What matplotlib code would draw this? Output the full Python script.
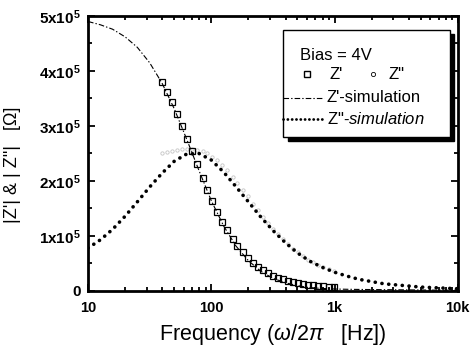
import matplotlib

matplotlib.use("Agg")
import matplotlib.pyplot as plt
from matplotlib.lines import Line2D
from matplotlib.patches import Rectangle
from matplotlib.ticker import FixedLocator, LogLocator, NullFormatter

plt.rcParams["font.family"] = ["Liberation Sans", "DejaVu Sans"]
plt.rcParams["mathtext.fontset"] = "custom"
plt.rcParams["mathtext.rm"] = "Liberation Sans"
plt.rcParams["mathtext.it"] = "Liberation Sans:italic"
plt.rcParams["mathtext.bf"] = "Liberation Sans:bold"
plt.rcParams["lines.scale_dashes"] = False

# simulation curves, impedance in units of 1e5 ohm
sim_freq = [10, 12.6, 15.8, 20, 25.1, 31.6, 39.8, 50.1, 63.1, 79.4,
            100, 126, 158, 200, 251, 316, 398, 501, 631, 794,
            1000, 1259, 1585, 1995, 2512, 3162, 3981, 5012, 6310, 7943, 10000]
zre_sim = [4.90, 4.84, 4.76, 4.62, 4.43, 4.15, 3.78, 3.31, 2.76, 2.19,
           1.64, 1.18, 0.82, 0.55, 0.36, 0.23, 0.15, 0.095, 0.061, 0.045,
           0.035, 0.03, 0.027, 0.025, 0.023, 0.021, 0.019, 0.017, 0.015, 0.013, 0.012]
zim_sim = [0.78, 0.93, 1.12, 1.36, 1.62, 1.89, 2.14, 2.36, 2.49, 2.50,
           2.38, 2.16, 1.90, 1.62, 1.35, 1.10, 0.88, 0.69, 0.54, 0.43,
           0.34, 0.27, 0.21, 0.17, 0.13, 0.11, 0.09, 0.07, 0.06, 0.05, 0.04]

# measured data
data_freq = [40, 44, 48, 53, 58, 64, 70, 77, 85, 93, 102, 112, 123, 135, 149,
             163, 180, 197, 217, 238, 262, 288, 316, 348, 382, 420, 462, 507,
             557, 613, 673, 740, 813, 894, 982]
zre_data = [3.80, 3.62, 3.44, 3.22, 3.00, 2.76, 2.54, 2.30, 2.06, 1.84, 1.64,
            1.44, 1.26, 1.10, 0.94, 0.82, 0.70, 0.60, 0.51, 0.44, 0.38, 0.32,
            0.28, 0.24, 0.21, 0.18, 0.16, 0.14, 0.12, 0.11, 0.10, 0.09, 0.085,
            0.08, 0.075]
zim_data = [2.50, 2.53, 2.55, 2.57, 2.58, 2.58, 2.58, 2.57, 2.54, 2.50, 2.44,
            2.38, 2.29, 2.20, 2.08, 1.97, 1.84, 1.72, 1.59, 1.47, 1.35, 1.24,
            1.13, 1.03, 0.94, 0.85, 0.77, 0.70, 0.63, 0.57, 0.52, 0.47, 0.43,
            0.39, 0.36]

y_ticks = [0, 1, 2, 3, 4, 5]
y_labels = ["0", "1x10$^5$", "2x10$^5$", "3x10$^5$", "4x10$^5$", "5x10$^5$"]
x_ticks = [10, 100, 1000, 10000]
x_labels = ["10", "100", "1k", "10k"]

fig = plt.figure(figsize=(4.71, 3.48), dpi=100)
ax = fig.add_axes([0.187, 0.164, 0.785, 0.790])

ax.plot(data_freq, zim_data, "o", ms=2.4, mfc="none", mec="#c4c4c4", mew=0.6)
ax.plot(data_freq, zre_data, "s", ms=3.8, mfc="none", mec="black", mew=0.9)
ax.plot(sim_freq, zre_sim, color="black", lw=0.8, linestyle=(0, (4, 1.5, 1, 1.5)))
ax.plot(sim_freq, zim_sim, color="black", lw=2.6, linestyle=(0, (0.1, 4.8)),
        dash_capstyle="round")

ax.set_xscale("log")
ax.set_xlim(10, 10000)
ax.set_ylim(0, 5)
ax.xaxis.set_major_locator(FixedLocator(x_ticks))
ax.set_xticklabels(x_labels, fontweight="bold")
ax.xaxis.set_minor_locator(LogLocator(base=10, subs=range(2, 10)))
ax.xaxis.set_minor_formatter(NullFormatter())
ax.set_yticks(y_ticks)
ax.set_yticklabels([l.replace("$^5$", "$\\mathbf{^5}$") for l in y_labels],
                   fontweight="bold")
ax.yaxis.set_minor_locator(FixedLocator([0.5, 1.5, 2.5, 3.5, 4.5]))

for s in ax.spines.values():
    s.set_linewidth(2)
ax.tick_params(which="both", direction="in", top=True, right=True, width=1.3)
ax.tick_params(which="major", length=5)
ax.tick_params(which="minor", length=3)
ax.tick_params(axis="x", labelsize=10.5, pad=7)
ax.tick_params(axis="y", labelsize=11, pad=5)

ax.set_xlabel(r"Frequency ($\omega$/2$\pi$   [Hz])", fontsize=15.5, labelpad=5)
ax.set_ylabel("|Z'| & | Z\"|   [\u03a9]", fontsize=13)
ax.yaxis.set_label_coords(-0.182, 0.46)

# legend box with shadow
bx, by, bw, bh = 0.527, 0.560, 0.451, 0.389
ax.add_patch(Rectangle((bx + 0.013, by - 0.015), bw, bh, transform=ax.transAxes,
                       facecolor="black", edgecolor="black", zorder=5))
ax.add_patch(Rectangle((bx, by), bw, bh, transform=ax.transAxes,
                       facecolor="white", edgecolor="black", lw=1.0, zorder=6))
fs = 12
ax.text(bx + 0.045, by + 0.298, "Bias = 4V", transform=ax.transAxes,
        fontsize=fs, va="center", zorder=7)
ax.add_line(Line2D([bx + 0.065], [by + 0.229], marker="s", ms=3.8, mfc="none",
                   mec="black", mew=1.0, transform=ax.transAxes, zorder=7))
ax.text(bx + 0.125, by + 0.229, "Z'", transform=ax.transAxes, fontsize=fs,
        va="center", zorder=7)
ax.add_line(Line2D([bx + 0.243], [by + 0.229], marker="o", ms=3.0, mfc="none",
                   mec="black", mew=0.6, transform=ax.transAxes, zorder=7))
ax.text(bx + 0.285, by + 0.229, "Z\"", transform=ax.transAxes, fontsize=fs,
        va="center", zorder=7)
ax.add_line(Line2D([bx, bx + 0.110], [by + 0.142, by + 0.142], color="black",
                   lw=0.8, linestyle=(0, (4, 1.5, 1, 1.5)),
                   transform=ax.transAxes, zorder=7))
ax.text(bx + 0.118, by + 0.142, "Z'-simulation", transform=ax.transAxes,
        fontsize=fs, va="center", zorder=7)
ax.add_line(Line2D([bx, bx + 0.105], [by + 0.065, by + 0.065], color="black",
                   lw=2.0, linestyle=(0, (0.1, 3.0)), dash_capstyle="round",
                   transform=ax.transAxes, zorder=7))
ax.text(bx + 0.118, by + 0.065, "Z\"-$\\it{simulation}$", transform=ax.transAxes,
        fontsize=fs, va="center", zorder=7)

fig.savefig("out.png", dpi=100)
